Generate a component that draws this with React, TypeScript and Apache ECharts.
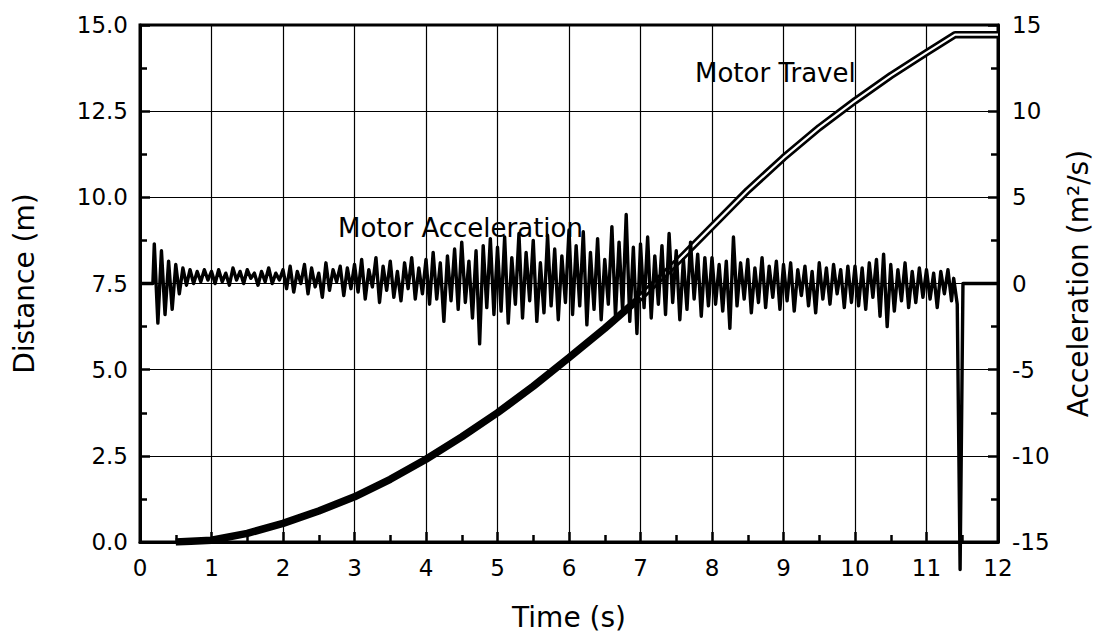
import React, { useEffect, useRef } from "react";
import * as echarts from "echarts";

// Motor travel (distance, m) sampled at these times (s)
const travelTime = [0.5, 1, 1.5, 2, 2.5, 3, 3.5, 4, 4.5, 5, 5.5, 6, 6.5, 7, 7.5, 8, 8.5, 9, 9.5, 10, 10.5, 11, 11.4, 12];
const travelDist = [0, 0.05, 0.25, 0.54, 0.9, 1.31, 1.82, 2.4, 3.05, 3.75, 4.52, 5.35, 6.2, 7.1, 8.1, 9.15, 10.2, 11.15, 12.02, 12.8, 13.53, 14.2, 14.72, 14.72];
// the trace splits into a double line from this sample on (t = 7 s)
const travelDoubleFrom = 13;

// Motor acceleration: leading flat part
const accelLeadTime = [0, 0.18];
const accelLeadValue = [0, 0];
// Sampled noise, starting at 0.20 s, every 0.05 s
const accelStart = 0.2;
const accelStep = 0.05;
const accelValues = [
  2.3, -2.3, 1.9, -1.8, 1.3, -1.5, 1.1, -0.6, 0.9, -0.1, 0.8, 0.0, 0.7, 0.1, 0.8, 0.2,
  0.7, 0.0, 0.8, 0.1, 0.6, -0.1, 0.9, 0.2, 0.7, 0.0, 0.8, 0.3, 0.6, -0.1, 0.7, 0.1, 0.9, 0.0, 0.6, 0.2,
  0.8, -0.3, 1.0, -0.5, 0.7, 0.0, 1.1, -0.6, 0.9, -0.2, 0.6, -0.8, 1.2, -0.4, 0.8, 0.1, 1.0, -0.7, 0.9, -0.3,
  1.1, -0.5, 1.4, -0.9, 0.8, -0.2, 1.5, -1.1, 1.0, -0.4, 1.3, -0.8, 0.7, -1.0, 1.2, -0.3, 1.5, -0.9, 0.9, -0.6,
  1.4, -1.2, 1.8, -0.9, 1.2, -2.2, 1.6, -1.0, 2.0, -1.5, 2.4, -1.1, 1.3, -2.0, 1.9, -3.5, 2.2, -1.4, 2.6, -1.8,
  2.1, -1.6, 2.7, -2.3, 1.5, -1.2, 2.9, -2.0, 1.8, -1.0, 2.5, -2.2, 1.2, -1.7, 2.8, -1.3, 2.0, -2.1, 1.6, -1.1,
  3.1, -1.8, 2.2, -1.3, 3.0, -2.4, 1.8, -1.5, 2.6, -2.1, 1.4, -1.2, 3.3, -1.9, 2.4, -1.6, 4.0, -2.2, 2.1, -2.9,
  2.3, -1.4, 2.7, -2.0, 1.6, -1.2, 2.2, -1.8, 2.9, -1.1, 1.9, -2.1, 1.4, -1.5, 2.4, -0.9, 1.7, -1.9, 1.5, -1.3,
  1.5, -1.2, 1.1, -1.6, 1.3, -2.6, 2.7, -1.3, 1.2, -0.9, 1.4, -1.7, 0.9, -1.1, 1.5, -1.4, 1.0, -0.8, 1.3, -1.5,
  1.1, -1.0, 1.2, -1.6, 0.8, -0.7, 1.0, -1.3, 0.7, -1.7, 1.2, -0.9, 0.9, -1.2, 1.1, -0.6, 0.8, -1.4, 1.0, -1.1,
  1.0, -1.3, 0.9, -1.5, 1.2, -0.8, 1.4, -1.9, 1.7, -2.5, 1.1, -1.6, 0.8, -1.0, 1.2, -1.4, 0.7, -1.1, 0.9, -0.8,
  0.8, -0.9, 0.6, -1.4, 0.7, -0.6, 0.8, -1.0,
];
// Braking spike and final rest
const accelTailTime = [11.38, 11.43, 11.47, 11.51, 12];
const accelTailValue = [0.3, -1.2, -16.6, 0, 0];

const xTicks = { min: 0, max: 12, interval: 1 };
const distTicks = { min: 0, max: 15, interval: 2.5 };
const accTicks = { min: -15, max: 15, interval: 5 };

const FONT = "DejaVu Sans";

export default function App() {
  const ref = useRef<HTMLDivElement>(null);

  useEffect(() => {
    document.body.style.margin = "0";
    if (!ref.current) return;
    const chart = echarts.init(ref.current, null, { renderer: "svg" });

    const travelData = travelTime.map((t, i) => [t, travelDist[i]]);
    const travelInner = travelData.slice(travelDoubleFrom);
    const accelData: number[][] = [
      ...accelLeadTime.map((t, i) => [t, accelLeadValue[i]]),
      ...accelValues.map((v, i) => [+(accelStart + i * accelStep).toFixed(2), v]),
      ...accelTailTime.map((t, i) => [t, accelTailValue[i]]),
    ];

    const axisLine = { show: true, onZero: false, lineStyle: { color: "#000", width: 3 } };
    const axisTick = { show: true, inside: true, length: 10, lineStyle: { color: "#000", width: 2.5 } };
    const minorTick = { show: true, splitNumber: 2, length: 7, lineStyle: { color: "#000", width: 2.5 } };
    const label = { color: "#000", fontSize: 23, fontFamily: FONT };
    const nameStyle = { color: "#000", fontSize: 28, fontFamily: FONT };

    chart.setOption({
      animation: false,
      backgroundColor: "#fff",
      grid: {
        left: 140,
        right: 100,
        top: 25,
        bottom: 95,
        show: true,
        borderColor: "#000",
        borderWidth: 3,
        containLabel: false,
        outerBoundsMode: "none",
      },
      xAxis: {
        type: "value",
        ...xTicks,
        axisLine,
        axisTick,
        minorTick,
        splitLine: { show: true, lineStyle: { color: "#000", width: 1.2 } },
        axisLabel: { ...label, margin: 14 },
        name: "Time (s)",
        nameLocation: "middle",
        nameGap: 61,
        nameTextStyle: nameStyle,
      },
      yAxis: [
        {
          type: "value",
          position: "left",
          ...distTicks,
          axisLine,
          axisTick,
          minorTick,
          splitLine: { show: true, lineStyle: { color: "#000", width: 1.2 } },
          axisLabel: { ...label, margin: 12, formatter: (v: number) => v.toFixed(1) },
          name: "Distance (m)",
          nameLocation: "middle",
          nameGap: 102,
          nameRotate: 90,
          nameTextStyle: nameStyle,
        },
        {
          type: "value",
          position: "right",
          ...accTicks,
          axisLine,
          axisTick,
          minorTick,
          splitLine: { show: false },
          axisLabel: { ...label, margin: 14 },
          name: "Acceleration (m²/s)",
          nameLocation: "middle",
          nameGap: 66,
          nameRotate: 90,
          nameTextStyle: nameStyle,
        },
      ],
      graphic: [
        {
          type: "text",
          left: 695,
          top: 60,
          z: 10,
          style: { text: "Motor Travel", fontSize: 26, fontFamily: FONT, fill: "#000" },
        },
        {
          type: "text",
          left: 338,
          top: 215,
          z: 10,
          style: { text: "Motor Acceleration", fontSize: 26, fontFamily: FONT, fill: "#000" },
        },
      ],
      series: [
        {
          name: "Motor Travel",
          type: "line",
          yAxisIndex: 0,
          data: travelData,
          showSymbol: false,
          lineStyle: { color: "#000", width: 7.5 },
          z: 3,
        },
        {
          name: "Motor Travel inner",
          type: "line",
          yAxisIndex: 0,
          data: travelInner,
          showSymbol: false,
          lineStyle: { color: "#fff", width: 2.2 },
          z: 4,
        },
        {
          name: "Motor Acceleration",
          type: "line",
          yAxisIndex: 1,
          data: accelData,
          showSymbol: false,
          clip: false,
          lineStyle: { color: "#000", width: 3.4, join: "round" },
          z: 5,
        },
      ],
    });

    return () => chart.dispose();
  }, []);

  return <div ref={ref} style={{ width: 1098, height: 637 }} />;
}
